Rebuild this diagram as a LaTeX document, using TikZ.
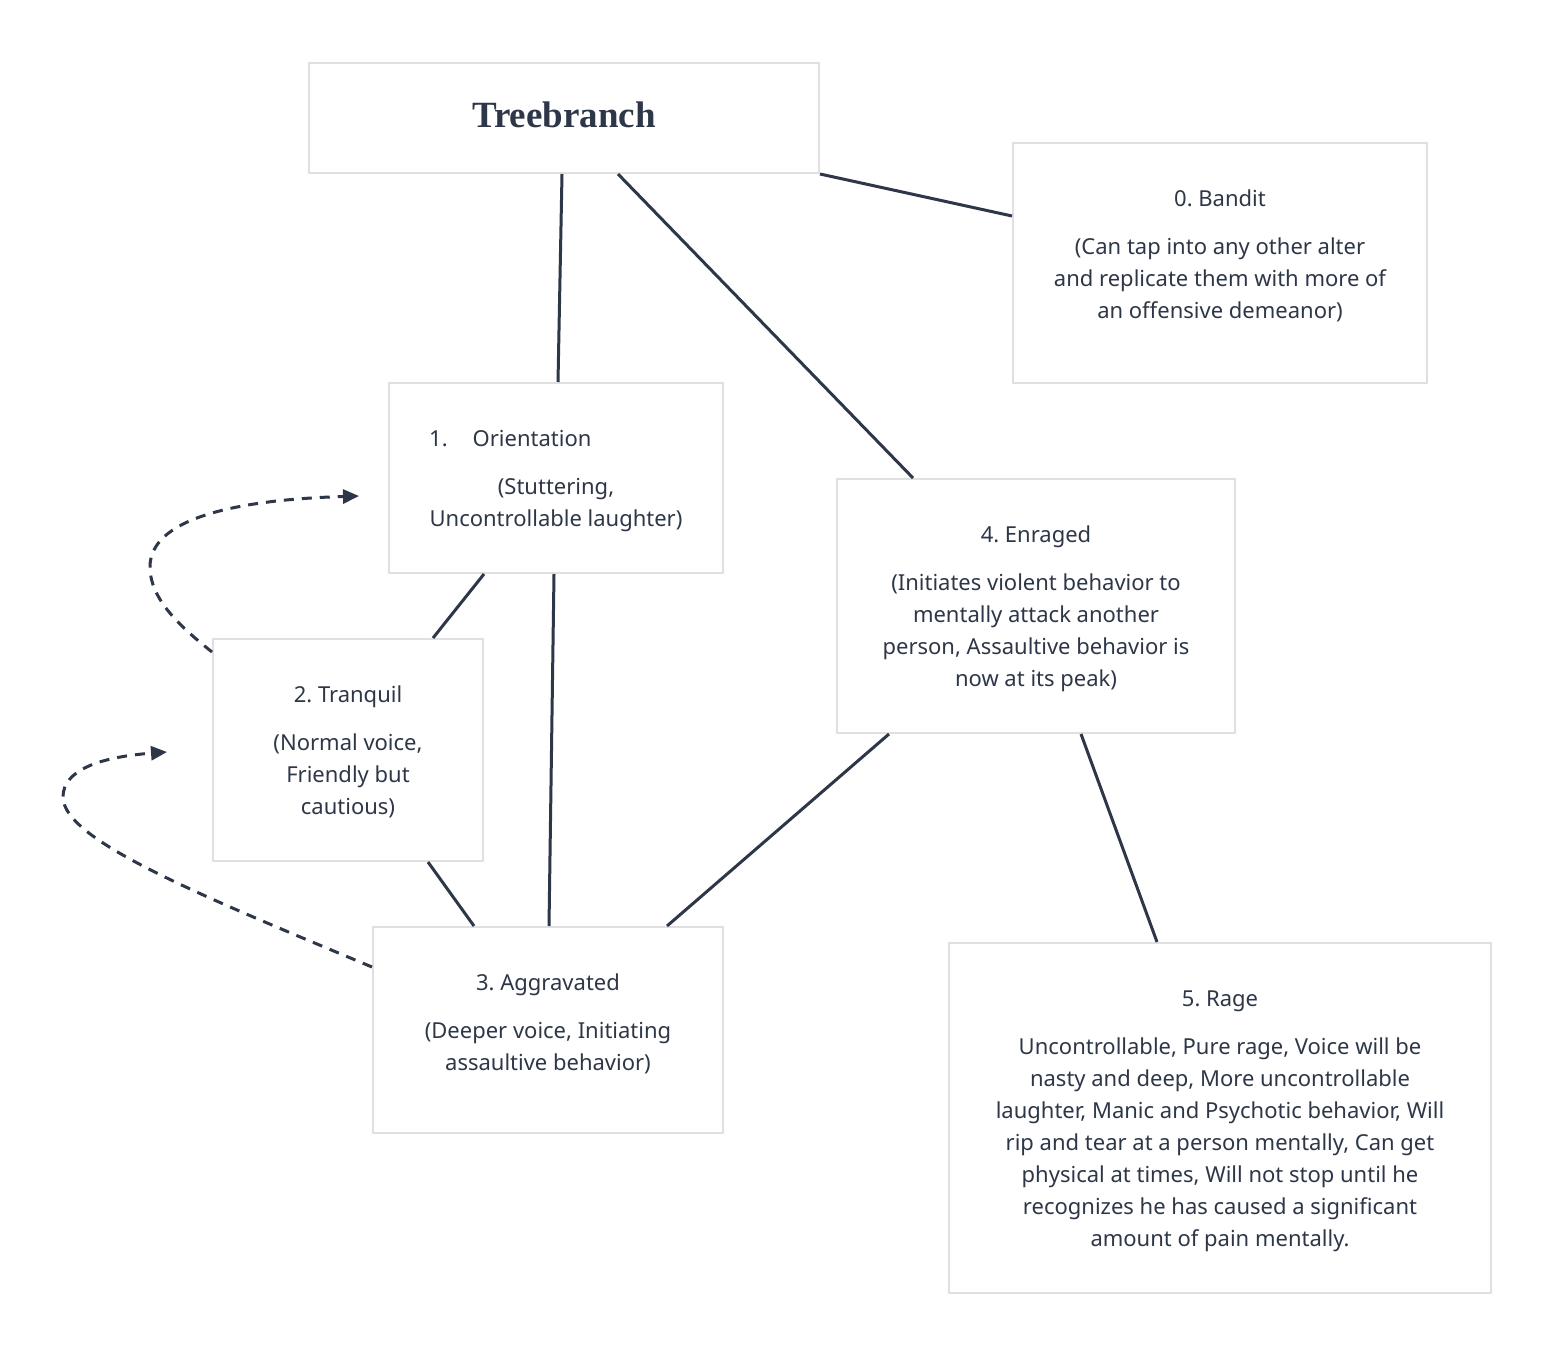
\documentclass[tikz,border=0pt]{standalone}
\usepackage{fontspec}
\setmainfont{Noto Sans}
\newfontfamily\titlefont{Liberation Serif}
\usetikzlibrary{calc,arrows.meta}
\definecolor{ink}{RGB}{45,55,72}
\definecolor{boxline}{RGB}{224,224,224}
\frenchspacing
\tikzset{
  box/.style={draw=boxline, line width=2pt, fill=white, inner sep=0pt},
  txt/.style={text=ink, inner sep=0pt, align=center, font=\fontsize{22}{32}\selectfont},
  link/.style={draw=ink, line width=3pt},
  loop/.style={draw=ink, line width=3pt, dash pattern=on 10pt off 8pt, -{Triangle[length=16pt,width=14pt]}}
}
\begin{document}
\begin{tikzpicture}[x=1pt,y=-1pt]
\useasboundingbox[fill=white] (0,0) rectangle (1554,1356);
% boxes
\node[box, minimum width=510pt, minimum height=110pt] (tb) at (564,118) {};
\node[box, minimum width=414pt, minimum height=240pt] (bandit) at (1220,263) {};
\node[box, minimum width=334pt, minimum height=190pt] (orient) at (556,478) {};
\node[box, minimum width=398pt, minimum height=254pt] (enr) at (1036,606) {};
\node[box, minimum width=270pt, minimum height=222pt] (tranq) at (348,750) {};
\node[box, minimum width=350pt, minimum height=206pt] (aggr) at (548,1030) {};
\node[box, minimum width=542pt, minimum height=350pt] (rage) at (1220,1118) {};
% texts
\node[text=ink, inner sep=0pt, anchor=base, font=\titlefont\bfseries\fontsize{37}{40}\selectfont] (tbt) at (564,128) {Treebranch};
\node[txt, anchor=north] (bandt) at (1220,183.6) {\strut 0. Bandit\\[16pt](Can tap into any other alter\\and replicate them with more of\\an offensive demeanor)};
\node[txt, anchor=north west] (oriett) at (429,423.6) {\strut 1.\hspace{25pt}Orientation};
\node[txt, anchor=north] (oriet) at (556,471.6) {\strut (Stuttering,\\Uncontrollable laughter)};
\node[txt, anchor=north] (enrt) at (1036,519.6) {\strut 4. Enraged\\[16pt](Initiates violent behavior to\\mentally attack another\\person, Assaultive behavior is\\now at its peak)};
\node[txt, anchor=north] (tranqt) at (348,679.6) {\strut 2. Tranquil\\[16pt](Normal voice,\\Friendly but\\cautious)};
\node[txt, anchor=north] (aggrt) at (548,967.6) {\strut 3. Aggravated\\[16pt](Deeper voice, Initiating\\assaultive behavior)};
\node[txt, anchor=north] (raget) at (1220,983.6) {\strut 5. Rage\\[16pt]Uncontrollable, Pure rage, Voice will be\\nasty and deep, More uncontrollable\\laughter, Manic and Psychotic behavior, Will\\rip and tear at a person mentally, Can get\\physical at times, Will not stop until he\\recognizes he has caused a significant\\amount of pain mentally.};
% connectors
\draw[link] ($(tb.south)+(-2,0)$) -- ($(orient.north)+(2,0)$);
\draw[link] ($(tb.south)+(54,0)$) -- ($(enr.north)+(-123,0)$);
\draw[link] (tb.south east) -- ($(bandit.west)+(0,-47)$);
\draw[link] ($(orient.south)+(-72,0)$) -- ($(tranq.north)+(85,0)$);
\draw[link] ($(orient.south)+(-2,0)$) -- ($(aggr.north)+(1,0)$);
\draw[link] ($(tranq.south)+(80,0)$) -- ($(aggr.north)+(-74,0)$);
\draw[link] ($(enr.south)+(-147,0)$) -- ($(aggr.north)+(119,0)$);
\draw[link] ($(enr.south)+(45,0)$) -- ($(rage.north)+(-63,0)$);
% loops
\coordinate (tip1) at ($(orient.west)+(-29,18)$);
\coordinate (tip2) at ($(tranq.west)+(-45,2)$);
\draw[loop] ($(tranq.north west)+(0,14)$) .. controls (182,628) and (150,600) .. (150,567)
  .. controls (150,520) and (230,500) .. (tip1);
\draw[loop] ($(aggr.west)+(0,-63)$) .. controls (200,895) and (63,840) .. (63,797)
  .. controls (63,770) and (100,757) .. (tip2);
\end{tikzpicture}
\end{document}
